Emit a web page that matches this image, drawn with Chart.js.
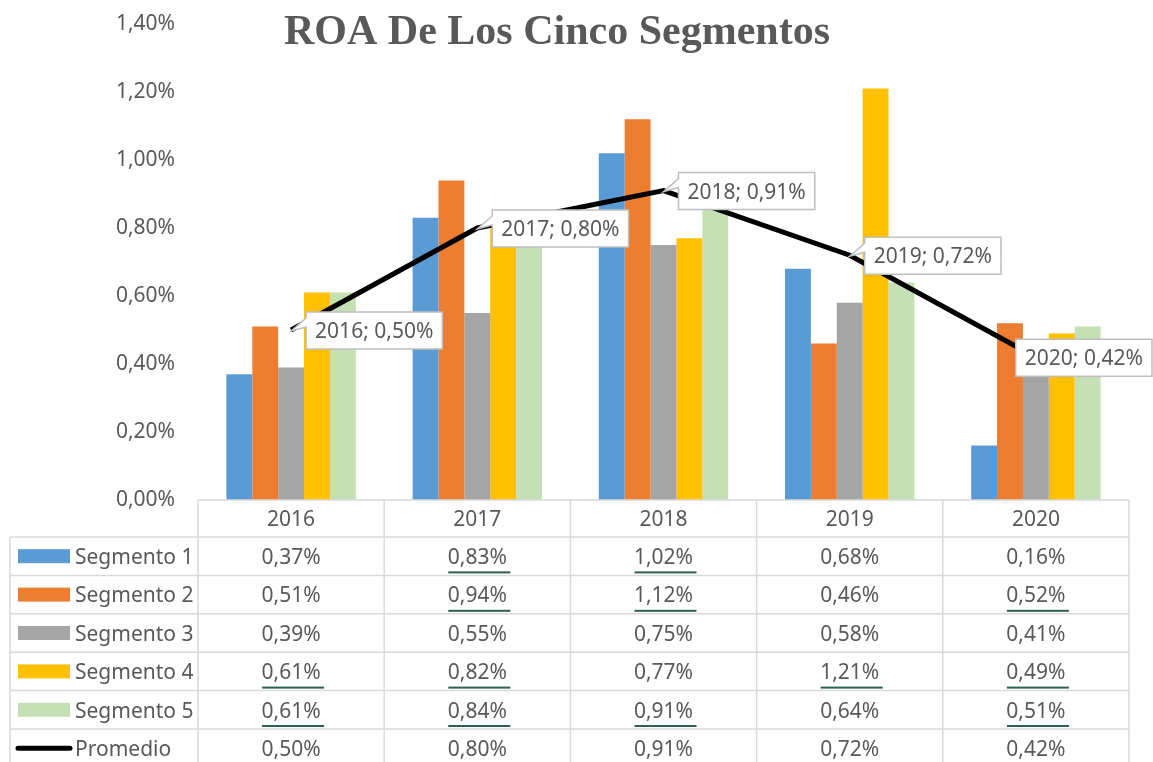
<!DOCTYPE html>
<html lang="es">
<head>
<meta charset="UTF-8" />
<title>ROA De Los Cinco Segmentos</title>
<script src="https://cdn.jsdelivr.net/npm/chart.js@4/dist/chart.umd.min.js"></script>
<style>
  html, body { margin: 0; padding: 0; background: #fff; }
  #wrap { width: 1153px; height: 762px; }
</style>
</head>
<body>
<div id="wrap"><canvas id="chart" width="1153" height="762"></canvas></div>

<script>
// data (values in %)
const years = ['2016', '2017', '2018', '2019', '2020'];
const seriesNames = ['Segmento 1', 'Segmento 2', 'Segmento 3', 'Segmento 4', 'Segmento 5'];
const segmento1 = [0.37, 0.83, 1.02, 0.68, 0.16];
const segmento2 = [0.51, 0.94, 1.12, 0.46, 0.52];
const segmento3 = [0.39, 0.55, 0.75, 0.58, 0.41];
const segmento4 = [0.61, 0.82, 0.77, 1.21, 0.49];
const segmento5 = [0.61, 0.84, 0.91, 0.64, 0.51];
const promedio  = [0.50, 0.80, 0.91, 0.72, 0.42];
const yTicks = [0, 0.2, 0.4, 0.6, 0.8, 1.0, 1.2, 1.4];

// cells that carry the green underline in the picture (rows = series)
const underlined = [
  [0, 1, 1, 0, 0],
  [0, 1, 1, 0, 1],
  [0, 0, 0, 0, 0],
  [1, 1, 0, 1, 1],
  [1, 1, 1, 0, 1],
  [0, 0, 0, 0, 0]
];

const colors = ['#5B9BD5', '#ED7D31', '#A5A5A5', '#FFC000', '#C5E0B4'];
const textColor = '#595959';
const gridColor = '#D9D9D9';
const tableFont = '21px "Noto Sans"';

const fmt = v => v.toFixed(2).replace('.', ',') + '%';

const barSeries = [segmento1, segmento2, segmento3, segmento4, segmento5];

// title, drawn over the plot like Excel does
const titlePlugin = {
  id: 'excelTitle',
  afterDraw(chart) {
    const ctx = chart.ctx;
    ctx.save();
    ctx.font = 'bold 42px "Liberation Serif"';
    ctx.fillStyle = textColor;
    ctx.textAlign = 'center';
    ctx.textBaseline = 'alphabetic';
    ctx.fillText('ROA De Los Cinco Segmentos', 557, 44);
    ctx.restore();
  }
};

// callout labels for the average line
const calloutPlugin = {
  id: 'callouts',
  afterDatasetsDraw(chart) {
    const ctx = chart.ctx;
    const meta = chart.getDatasetMeta(5);
    ctx.save();
    ctx.font = tableFont;
    meta.data.forEach((pt, i) => {
      const txt = years[i] + '; ' + fmt(promedio[i]);
      const w = ctx.measureText(txt).width + 18;
      const h = 37;
      let left = pt.x + 15;
      if (left + w > chart.width) left = chart.width - w - 1;
      const top = pt.y - 18;

      ctx.beginPath();
      ctx.moveTo(left, top);
      ctx.lineTo(left + w, top);
      ctx.lineTo(left + w, top + h);
      ctx.lineTo(left, top + h);
      if (pt.x < left) {
        ctx.lineTo(left, top + 15);
        ctx.lineTo(pt.x, pt.y + 1);
        ctx.lineTo(left, top + 6);
      }
      ctx.closePath();
      ctx.fillStyle = '#fff';
      ctx.fill();
      ctx.strokeStyle = '#BFBFBF';
      ctx.lineWidth = 1.5;
      ctx.stroke();

      ctx.fillStyle = textColor;
      ctx.textAlign = 'center';
      ctx.textBaseline = 'alphabetic';
      ctx.fillText(txt, left + w / 2, top + 26);
    });
    ctx.restore();
  }
};

// Excel style data table under the plot
const tablePlugin = {
  id: 'dataTable',
  afterDraw(chart) {
    const ctx = chart.ctx;
    const a = chart.chartArea;
    const colW = (a.right - a.left) / years.length;
    const headTop = a.bottom;
    const rowTop = headTop + 37;
    const rowH = 38.4;
    const legendLeft = 10;
    const rows = seriesNames.concat(['Promedio']);
    const values = barSeries.concat([promedio]);
    const bottom = chart.height + 5;

    ctx.save();
    ctx.strokeStyle = gridColor;
    ctx.lineWidth = 1.5;
    ctx.beginPath();
    ctx.moveTo(a.left, headTop); ctx.lineTo(a.right, headTop);
    for (let r = 0; r < rows.length; r++) {
      const y = rowTop + r * rowH;
      ctx.moveTo(legendLeft, y); ctx.lineTo(a.right, y);
    }
    for (let c = 0; c <= years.length; c++) {
      const x = a.left + c * colW;
      ctx.moveTo(x, headTop); ctx.lineTo(x, bottom);
    }
    ctx.moveTo(legendLeft, rowTop); ctx.lineTo(legendLeft, bottom);
    ctx.stroke();

    ctx.font = tableFont;
    ctx.fillStyle = textColor;
    ctx.textBaseline = 'alphabetic';
    ctx.textAlign = 'center';
    years.forEach((y, c) => {
      ctx.fillText(y, a.left + (c + 0.5) * colW, headTop + 26);
    });

    rows.forEach((name, r) => {
      const y = rowTop + r * rowH;
      const mid = y + rowH / 2;
      // legend key
      if (r < colors.length) {
        ctx.fillStyle = colors[r];
        ctx.fillRect(18, mid - 7, 52, 14);
      } else {
        ctx.strokeStyle = '#000';
        ctx.lineWidth = 5;
        ctx.lineCap = 'round';
        ctx.beginPath();
        ctx.moveTo(18, mid); ctx.lineTo(70, mid);
        ctx.stroke();
      }
      ctx.fillStyle = textColor;
      ctx.textAlign = 'left';
      ctx.fillText(name, 75, y + 27);

      ctx.textAlign = 'center';
      values[r].forEach((v, c) => {
        const cx = a.left + (c + 0.5) * colW;
        ctx.fillStyle = textColor;
        ctx.fillText(fmt(v), cx, y + 27);
        if (underlined[r][c]) {
          ctx.fillStyle = '#2F5F4F';
          ctx.fillRect(cx - 29, y + rowH - 4, 62, 2);
        }
      });
    });
    ctx.restore();
  }
};

const datasets = barSeries.map((vals, i) => ({
  type: 'bar',
  label: seriesNames[i],
  data: vals,
  backgroundColor: colors[i],
  borderWidth: 0,
  order: 1
}));
datasets.push({
  type: 'line',
  label: 'Promedio',
  data: promedio,
  borderColor: '#000',
  borderWidth: 5,
  pointRadius: 0,
  fill: false,
  tension: 0,
  order: 0
});

new Chart(document.getElementById('chart'), {
  type: 'bar',
  data: { labels: years, datasets: datasets },
  options: {
    responsive: false,
    animation: false,
    layout: { padding: { top: 24, right: 24, bottom: 262, left: 0 } },
    datasets: {
      bar: { categoryPercentage: 0.695, barPercentage: 1.0 }
    },
    plugins: {
      legend: { display: false },
      title: { display: false },
      tooltip: { enabled: false }
    },
    scales: {
      x: { display: false },
      y: {
        min: 0,
        max: 1.4,
        afterFit: scale => {
          scale.width = 198;
          scale.paddingTop = 0;
          scale.paddingBottom = 0;
        },
        afterBuildTicks: scale => { scale.ticks = yTicks.map(v => ({ value: v })); },
        grid: { display: false, drawTicks: false },
        border: { display: false },
        ticks: {
          padding: 23,
          color: textColor,
          font: { family: 'Noto Sans', size: 21 },
          callback: v => fmt(v)
        }
      }
    }
  },
  plugins: [calloutPlugin, tablePlugin, titlePlugin]
});
</script>
</body>
</html>
